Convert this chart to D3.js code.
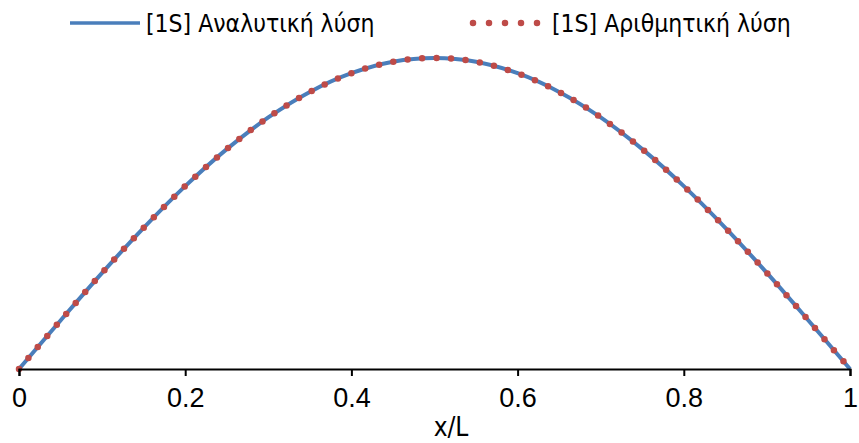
<!doctype html>
<meta charset="utf-8">
<style>
body { margin: 0; background: #fff; }
svg { display: block; font-family: "DejaVu Sans Condensed", "DejaVu Sans", sans-serif; }
.tick text { fill: #000; }
</style>
<div id="chart"></div>
<script src="https://cdn.jsdelivr.net/npm/d3@7"></script>
<script>
// values (y is relative, peak = 1)
var xValues = [0, 0.05, 0.1, 0.15, 0.2, 0.25, 0.3, 0.35, 0.4, 0.45, 0.5,
               0.55, 0.6, 0.65, 0.7, 0.75, 0.8, 0.85, 0.9, 0.95, 1];
var analytic = [0, 0.156, 0.309, 0.454, 0.588, 0.707, 0.809, 0.891, 0.951, 0.988, 1,
                0.988, 0.951, 0.891, 0.809, 0.707, 0.588, 0.454, 0.309, 0.156, 0];
var numeric = [0, 0.156, 0.309, 0.454, 0.588, 0.707, 0.809, 0.891, 0.951, 0.988, 1,
               0.988, 0.951, 0.891, 0.809, 0.707, 0.588, 0.454, 0.309, 0.156, 0];
var tickValues = [0, 0.2, 0.4, 0.6, 0.8, 1];
var seriesNames = ["[1S] Αναλυτική λύση", "[1S] Αριθμητική λύση"];
var xTitle = "x/L";
</script>
<script>
var width = 859, height = 443;
var blue = "#4a7ebb", red = "#be4b48";

var svg = d3.select("#chart").append("svg")
    .attr("width", width)
    .attr("height", height);

var x = d3.scaleLinear().domain([0, 1]).range([19, 850]);
var y = d3.scaleLinear().domain([0, 1]).range([369, 58]);

var line = d3.line()
    .x(function (d) { return x(d[0]); })
    .y(function (d) { return y(d[1]); })
    .curve(d3.curveCatmullRom);

// analytic solution: solid blue
svg.append("path")
    .datum(d3.zip(xValues, analytic))
    .attr("fill", "none")
    .attr("stroke", blue)
    .attr("stroke-width", 4)
    .attr("d", line);

// numeric solution: round dots
svg.append("path")
    .datum(d3.zip(xValues, numeric))
    .attr("fill", "none")
    .attr("stroke", red)
    .attr("stroke-width", 6.5)
    .attr("stroke-linecap", "round")
    .attr("stroke-dasharray", "0 14.5")
    .attr("d", line);

// x axis
var axis = svg.append("g")
    .attr("transform", "translate(0,369)")
    .call(d3.axisBottom(x)
        .tickValues(tickValues)
        .tickFormat(function (d) { return String(d); })
        .tickSize(7)
        .tickPadding(12));
axis.select(".domain").attr("stroke", "#000").attr("stroke-width", 2);
axis.selectAll(".tick line").attr("stroke", "#000").attr("stroke-width", 2);
axis.selectAll(".tick text").attr("font-size", 27).attr("font-family", null);

svg.append("text")
    .attr("x", 451)
    .attr("y", 436)
    .attr("text-anchor", "middle")
    .attr("font-size", 26)
    .text(xTitle);

// legend
var legend = svg.append("g");
legend.append("line")
    .attr("x1", 70).attr("x2", 140)
    .attr("y1", 23).attr("y2", 23)
    .attr("stroke", blue)
    .attr("stroke-width", 3.5);
legend.append("text")
    .attr("x", 146).attr("y", 32)
    .attr("font-size", 24.5)
    .text(seriesNames[0]);
legend.append("line")
    .attr("x1", 473).attr("x2", 540)
    .attr("y1", 23).attr("y2", 23)
    .attr("stroke", red)
    .attr("stroke-width", 6.5)
    .attr("stroke-linecap", "round")
    .attr("stroke-dasharray", "0 16");
legend.append("text")
    .attr("x", 552).attr("y", 32)
    .attr("font-size", 24.5)
    .text(seriesNames[1]);
</script>
